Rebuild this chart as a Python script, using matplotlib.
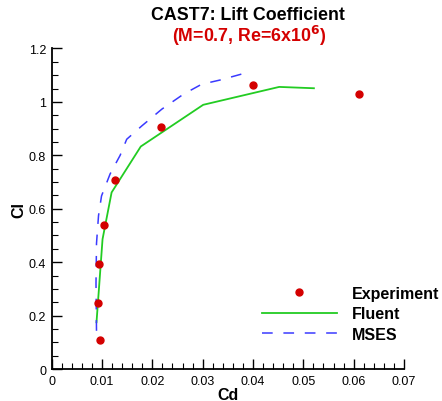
import matplotlib
matplotlib.use("Agg")
import matplotlib.pyplot as plt
from matplotlib.ticker import MultipleLocator

plt.rcParams['font.family'] = ['Liberation Sans', 'DejaVu Sans']

exp_cd = [0.0096, 0.0092, 0.0094, 0.0104, 0.0126, 0.0217, 0.0400, 0.0611]
exp_cl = [0.108, 0.247, 0.393, 0.539, 0.707, 0.905, 1.062, 1.029]

fluent_cd = [0.0089, 0.0095, 0.0101, 0.0119, 0.0177, 0.0301, 0.0452, 0.0521]
fluent_cl = [0.175, 0.330, 0.486, 0.661, 0.833, 0.989, 1.056, 1.051]

mses_cd = [0.0089, 0.0088, 0.0089, 0.0093, 0.0099, 0.0116, 0.0136, 0.0149, 0.0179,
           0.0219, 0.0262, 0.0298, 0.0335, 0.0381]
mses_cl = [0.143, 0.320, 0.470, 0.574, 0.648, 0.730, 0.800, 0.860, 0.910,
           0.973, 1.029, 1.066, 1.082, 1.106]

x_ticks = [0, 0.01, 0.02, 0.03, 0.04, 0.05, 0.06, 0.07]
x_labels = ['0', '0.01', '0.02', '0.03', '0.04', '0.05', '0.06', '0.07']
y_ticks = [0, 0.2, 0.4, 0.6, 0.8, 1.0, 1.2]
y_labels = ['0', '0.2', '0.4', '0.6', '0.8', '1', '1.2']

fig = plt.figure(figsize=(4.42, 4.02), dpi=100)
ax = fig.add_axes([0.117, 0.0796, 0.797, 0.7974])

ax.plot(exp_cd, exp_cl, 'o', color='#d40000', markersize=5, label='Experiment', zorder=3)
ax.plot(fluent_cd, fluent_cl, '-', color='#22cc22', lw=1.3, label='Fluent')
ax.plot(mses_cd, mses_cl, '--', color='#3a3aff', lw=1.1, dashes=(7, 7), label='MSES')

ax.set_xlim(0, 0.07)
ax.set_ylim(0, 1.2)
ax.set_xticks(x_ticks)
ax.set_xticklabels(x_labels)
ax.set_yticks(y_ticks)
ax.set_yticklabels(y_labels)
ax.xaxis.set_minor_locator(MultipleLocator(0.002))
ax.yaxis.set_minor_locator(MultipleLocator(0.05))
ax.tick_params(which='major', direction='in', length=7, width=1, labelsize=9, pad=4)
ax.tick_params(which='minor', direction='in', length=4, width=0.8)
for s in ['top', 'right']:
    ax.spines[s].set_visible(False)
for s in ['left', 'bottom']:
    ax.spines[s].set_linewidth(1.3)

ax.set_xlabel('Cd', fontsize=11.5, fontweight='bold', labelpad=0)
ax.set_ylabel('Cl', fontsize=11.5, fontweight='bold', labelpad=2)

fig.text(248/442, 1 - 15/402, 'CAST7: Lift Coefficient', ha='center', va='center',
         fontsize=12.8, fontweight='bold', color='black')
fig.text(249/442, 1 - 36/402, r'(M=0.7, Re=6x10$^\mathbf{6}$)', ha='center', va='center',
         fontsize=12.8, fontweight='bold', color='#d40000')

leg = ax.legend(loc='upper left', bbox_to_anchor=(261.7/442, 1 - 287/402),
                bbox_transform=fig.transFigure, frameon=False, prop={'weight': 'bold', 'size': 11.5},
                handlelength=4.7, handletextpad=0.94, labelspacing=0.33, borderpad=0,
                borderaxespad=0, numpoints=1)

fig.savefig('out.png', dpi=100)
